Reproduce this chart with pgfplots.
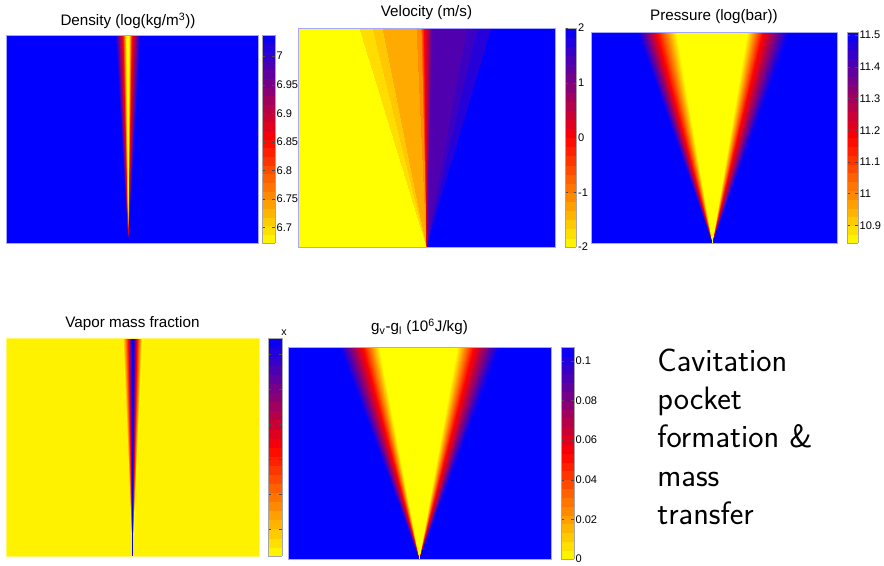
\documentclass[border=0pt]{standalone}
\usepackage{fontspec}
\setmainfont{Liberation Sans}
\usepackage{pgfplots}
\pgfplotsset{compat=1.18}
\usepgfplotslibrary{patchplots}

\pgfplotsset{
  colormap={cav}{rgb255=(255,255,0) rgb255=(255,0,0) rgb255=(0,0,255)},
  colorbar shift/.style={},
  panel/.style={
    scale only axis, xmin=0, xmax=1, ymin=0, ymax=1,
    axis on top,
    axis line style={draw=blue!35!white, line width=0.5pt},
    xtick=\empty, ytick=\empty,
    colormap name=cav, colorbar sampled,
    title style={at={(0.5,1)}, anchor=base, font=\fontsize{11.4}{13}\selectfont},
  },
  every colorbar/.append style={
    at={(parent axis.north east)}, anchor=north west,
    axis line style={draw=gray!70, line width=0.4pt},
    samples=25,
    yticklabel style={font=\fontsize{8.3}{9}\selectfont, inner sep=1pt},
    /pgf/number format/assume math mode=true,
    /pgf/number format/fixed,
    /pgf/number format/precision=3,
    scaled y ticks=false,
    major tick length=2pt,
    tick align=inside,
    tick style={draw=black!70, line width=0.3pt},
    yticklabel pos=right,
  },
  wedge/.style={patch, patch type=bilinear, shader=interp, point meta=explicit},
}

\begin{document}
\begin{tikzpicture}
\path[use as bounding box] (0,0) rectangle (663pt,424.5pt);

% ---------------- Density ----------------
\begin{axis}[panel, name=pA, at={(4.5pt,242.25pt)}, anchor=south west,
  width=189pt, height=156pt,
  axis background/.style={fill=blue},
  point meta min=6.673, point meta max=7.037,
  title={Density (log(kg/m\textsuperscript{3}))},
  title style={yshift=0.75pt, xshift=-3pt},
  colorbar style={width=9.75pt, xshift=3pt,
    ytick={6.7,6.75,6.8,6.85,6.9,6.95,7}}]
\addplot[wedge] table[x=x,y=y,meta=c] {
x y c
0.487 0 7.037
0.487 0 6.855
0.466 1 6.855
0.4365 1 7.037
0.487 0 6.855
0.487 0 6.673
0.481 1 6.673
0.466 1 6.855
0.487 0 6.673
0.487 0 6.673
0.491 1 6.673
0.481 1 6.673
0.487 0 6.673
0.487 0 6.855
0.503 1 6.855
0.491 1 6.673
0.487 0 6.855
0.487 0 7.037
0.536 1 7.037
0.503 1 6.855
};
\end{axis}
\fill[white] ([yshift=0.3pt,xshift=-0.5pt]pA.north west) rectangle ([yshift=2.4pt,xshift=1.2pt]pA.north east);

% ---------------- Velocity ----------------
\begin{axis}[panel, name=pB, at={(223.5pt,239.25pt)}, anchor=south west,
  width=192.75pt, height=164.25pt,
  point meta min=-2, point meta max=2,
  title={Velocity (m/s)},
  title style={yshift=2.25pt},
  colorbar style={width=8.6pt, xshift=7.5pt,
    ytick={-2,-1,0,1,2}}]
\addplot[wedge] table[x=x,y=y,meta=c] {
x y c
0 0 -2
0.502 0 -2
0.241 1 -2
0 1 -2
0.502 0 -1.73
0.502 0 -1.73
0.292 1 -1.73
0.241 1 -1.73
0.502 0 -1.57
0.502 0 -1.57
0.331 1 -1.57
0.292 1 -1.57
0.502 0 -1.33
0.502 0 -1.33
0.463 1 -1.33
0.331 1 -1.33
0.502 0 -1.1
0.502 0 -1.1
0.482 1 -1.1
0.463 1 -1.1
0.502 0 -0.9
0.502 0 0
0.494 1 0
0.482 1 -0.9
0.502 0 0
0.502 0 0.5
0.506 1 0.5
0.494 1 0
0.502 0 0.5
0.502 0 1.3
0.525 1 1.3
0.506 1 0.5
0.502 0 1.37
0.502 0 1.37
0.661 1 1.37
0.525 1 1.37
0.502 0 1.53
0.502 0 1.53
0.700 1 1.53
0.661 1 1.53
0.502 0 1.7
0.502 0 1.7
0.755 1 1.7
0.700 1 1.7
0.502 0 2
1 0 2
1 1 2
0.755 1 2
};
\end{axis}
\fill[white] ([yshift=0.3pt,xshift=-0.5pt]pB.north west) rectangle ([yshift=2.4pt,xshift=1.2pt]pB.north east);

% ---------------- Pressure ----------------
\begin{axis}[panel, name=pC, at={(443.25pt,242.25pt)}, anchor=south west,
  width=184.5pt, height=158.25pt,
  axis background/.style={fill=blue},
  point meta min=10.844, point meta max=11.51,
  title={Pressure (log(bar))},
  title style={yshift=2.25pt},
  colorbar style={width=8.25pt, xshift=7.5pt,
    ytick={10.9,11,11.1,11.2,11.3,11.4,11.5}}]
\addplot[wedge] table[x=x,y=y,meta=c] {
x y c
0.496 0 11.51
0.496 0 11.177
0.268 1 11.177
0.191 1 11.51
0.496 0 11.177
0.496 0 10.844
0.350 1 10.844
0.268 1 11.177
0.496 0 10.844
0.496 0 10.844
0.638 1 10.844
0.350 1 10.844
0.496 0 10.844
0.496 0 11.177
0.703 1 11.177
0.638 1 10.844
0.496 0 11.177
0.496 0 11.51
0.809 1 11.51
0.703 1 11.177
};
\end{axis}
\fill[white] ([yshift=0.3pt,xshift=-0.5pt]pC.north west) rectangle ([yshift=2.4pt,xshift=1.2pt]pC.north east);

% ---------------- Vapor mass fraction ----------------
\begin{axis}[panel, name=pD, at={(4.5pt,7.5pt)}, anchor=south west,
  width=189.75pt, height=163.5pt,
  axis background/.style={fill=yellow},
  axis line style={draw=yellow!60!white},
  point meta min=0.5, point meta max=12.9,
  title={Vapor mass fraction},
  title style={yshift=1.5pt},
  colorbar style={width=10.5pt, xshift=6.75pt,
    ytick={2,4,6,8,10,12}, yticklabels={}}]
\addplot[wedge] table[x=x,y=y,meta=c] {
x y c
0.502 0 0.5
0.502 0 6.7
0.487 1 6.7
0.464 1 0.5
0.502 0 6.7
0.502 0 12.9
0.500 1 12.9
0.487 1 6.7
0.502 0 12.9
0.502 0 12.9
0.507 1 12.9
0.500 1 12.9
0.502 0 12.9
0.502 0 6.7
0.520 1 6.7
0.507 1 12.9
0.502 0 6.7
0.502 0 0.5
0.542 1 0.5
0.520 1 6.7
};
\end{axis}
\fill[white] ([yshift=0.3pt,xshift=-0.5pt]pD.north west) rectangle ([yshift=2.4pt,xshift=1.2pt]pD.north east);
\node[font=\fontsize{8}{9}\selectfont, inner sep=0] at (213pt,174.75pt) {x};

% ---------------- gv - gl ----------------
\begin{axis}[panel, name=pE, at={(216pt,5.25pt)}, anchor=south west,
  width=197.25pt, height=159pt,
  axis background/.style={fill=blue},
  point meta min=0, point meta max=0.107,
  title={g\textsubscript{v}-g\textsubscript{l} (10\textsuperscript{6}J/kg)},
  title style={yshift=5.25pt},
  colorbar style={width=9.75pt, xshift=7.5pt,
    ytick={0,0.02,0.04,0.06,0.08,0.1}}]
\addplot[wedge] table[x=x,y=y,meta=c] {
x y c
0.502 0 0.107
0.502 0 0.0535
0.285 1 0.0535
0.198 1 0.107
0.502 0 0.0535
0.502 0 0
0.350 1 0
0.285 1 0.0535
0.502 0 0
0.502 0 0
0.646 1 0
0.350 1 0
0.502 0 0
0.502 0 0.0535
0.711 1 0.0535
0.646 1 0
0.502 0 0.0535
0.502 0 0.107
0.806 1 0.107
0.711 1 0.0535
};
\end{axis}
\fill[white] ([yshift=0.3pt,xshift=-0.5pt]pE.north west) rectangle ([yshift=2.4pt,xshift=1.2pt]pE.north east);

% ---------------- Caption text ----------------
\begin{scope}[every node/.style={anchor=base west, inner sep=0,
    font=\sffamily\fontsize{24.3}{29}\selectfont}]
\node at (492.75pt,145.5pt) {Cavitation};
\node at (492.75pt,117pt) {pocket};
\node at (492.75pt,88.5pt) {formation \&};
\node at (492.75pt,59.25pt) {mass};
\node at (492.75pt,30.75pt) {transfer};
\end{scope}
\end{tikzpicture}
\end{document}
